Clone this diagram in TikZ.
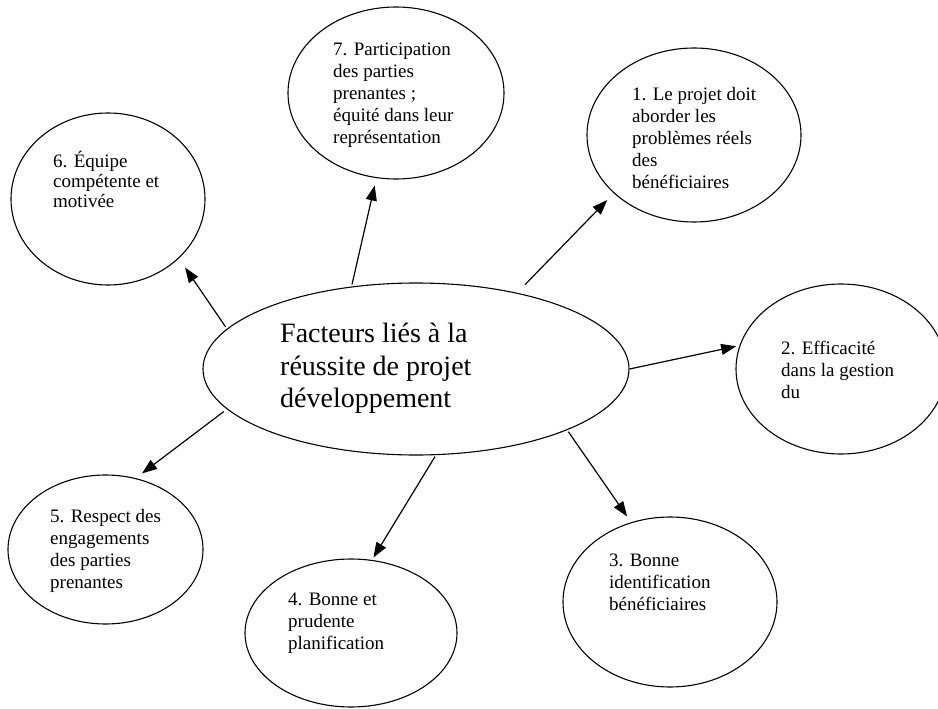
\documentclass[tikz,border=0pt]{standalone}
\usepackage{fontspec}
\setmainfont{Liberation Serif}
\usetikzlibrary{shapes.geometric,arrows.meta}
\begin{document}
\begin{tikzpicture}[x=1pt,y=-1pt,
  bubble/.style={draw, ellipse, line width=1.1pt, inner sep=0pt},
  itemtext/.style={anchor=north west, inner sep=0pt, align=left,
    font=\fontsize{19}{22}\selectfont},
  link/.style={-{Triangle[length=15pt,width=11pt]}, line width=1.2pt}]
\fill[white] (0,0) rectangle (938,709);
\useasboundingbox (0,0) rectangle (938,709);

% central topic and the seven factors
\node[bubble, minimum width=426pt, minimum height=172pt] (c)  at (416,369)   {};
\node[bubble, minimum width=216pt, minimum height=172pt] (e7) at (396,93)    {};
\node[bubble, minimum width=214pt, minimum height=174pt] (e1) at (694,135)   {};
\node[bubble, minimum width=194pt, minimum height=172pt] (e6) at (108,199)   {};
\node[bubble, minimum width=210pt, minimum height=170pt] (e2) at (841,369)   {};
\node[bubble, minimum width=214pt, minimum height=170pt] (e3) at (670,602)   {};
\node[bubble, minimum width=212pt, minimum height=148pt] (e4) at (351,633)   {};
\node[bubble, minimum width=195pt, minimum height=149pt] (e5) at (105.5,549.5) {};

% texts
\node[itemtext, font=\fontsize{28}{32.5}\selectfont] (tc) at (280,323)
  {Facteurs liés à la\\réussite de projet\\développement};
\node[itemtext] (t7) at (333,43)
  {7. Participation\\des parties\\prenantes ;\\équité dans leur\\représentation};
\node[itemtext] (t1) at (632,87)
  {1. Le projet doit\\aborder les\\problèmes réels\\des\\bénéficiaires};
\node[itemtext, font=\fontsize{19}{20}\selectfont] (t6) at (53,151)
  {6. Équipe\\compétente et\\motivée};
\node[itemtext] (t2) at (781,341) {2. Efficacité\\dans la gestion\\du};
\node[itemtext] (t3) at (609,554) {3. Bonne\\identification\\bénéficiaires};
\node[itemtext] (t4) at (288,593) {4. Bonne et\\prudente\\planification};
\node[itemtext] (t5) at (50,509)
  {5. Respect des\\engagements\\des parties\\prenantes};

% arrows from the centre to each factor
\draw[link, shorten <=2pt,    shorten >=7.6pt] (c.128) -- (e7.257);
\draw[link, shorten <=11.4pt, shorten >=9.4pt] (c.37)  -- (e1.216);
\draw[link, shorten >=3.4pt]                   (c.0)   -- (e2.167);
\draw[link, shorten <=2pt,    shorten >=7pt]   (c.-22) -- (e3.116);
\draw[link, shorten <=1.6pt,  shorten >=2.8pt] (c.-77) -- (e4.74);
\draw[link, shorten <=4pt,    shorten >=7.8pt] (c.192) -- (e5.67);
\draw[link, shorten <=2.3pt,  shorten >=11pt]  (c.168) -- (e6.-40);
\end{tikzpicture}
\end{document}
